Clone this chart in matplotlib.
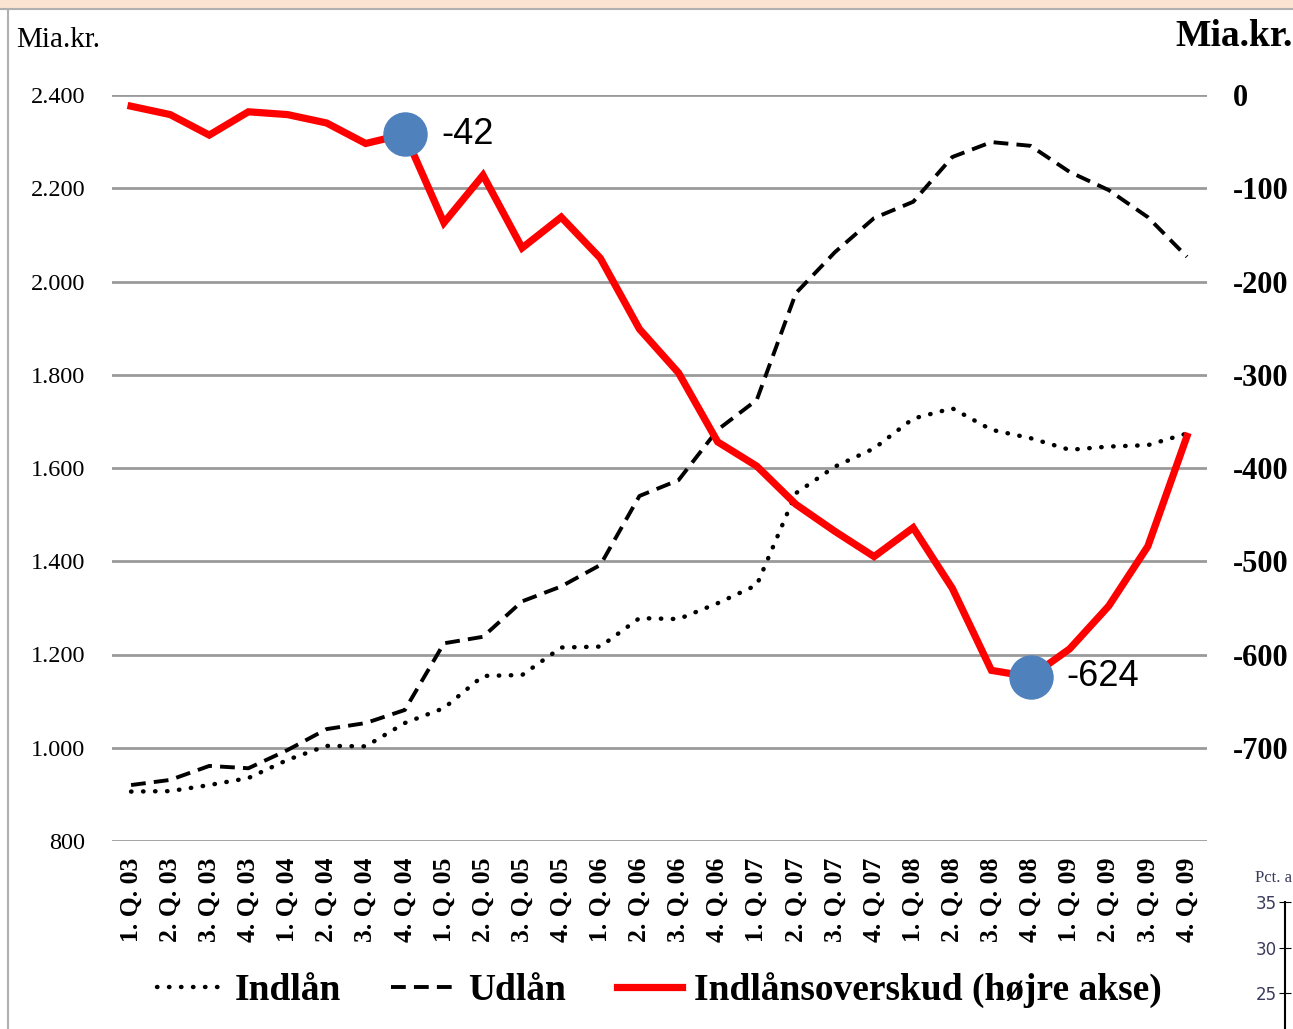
import matplotlib.pyplot as plt
from matplotlib.lines import Line2D
from matplotlib.patches import Rectangle

kvartaler = ['1. Q. 03', '2. Q. 03', '3. Q. 03', '4. Q. 03',
             '1. Q. 04', '2. Q. 04', '3. Q. 04', '4. Q. 04',
             '1. Q. 05', '2. Q. 05', '3. Q. 05', '4. Q. 05',
             '1. Q. 06', '2. Q. 06', '3. Q. 06', '4. Q. 06',
             '1. Q. 07', '2. Q. 07', '3. Q. 07', '4. Q. 07',
             '1. Q. 08', '2. Q. 08', '3. Q. 08', '4. Q. 08',
             '1. Q. 09', '2. Q. 09', '3. Q. 09', '4. Q. 09']
indlaan = [906, 907, 920, 935, 974, 1004, 1003, 1053,
           1085, 1154, 1156, 1215, 1217, 1278, 1276, 1310,
           1349, 1546, 1603, 1642, 1706, 1728, 1682, 1664,
           1639, 1646, 1649, 1674]
udlaan = [920, 931, 961, 956, 995, 1040, 1053, 1081,
          1224, 1238, 1314, 1346, 1392, 1540, 1574, 1682,
          1746, 1975, 2063, 2136, 2171, 2267, 2299, 2291,
          2235, 2196, 2138, 2053]
overskud = [-12, -21, -43, -18, -21, -30, -52, -42,
            -137, -86, -164, -131, -175, -251, -298, -372,
            -398, -439, -468, -495, -464, -529, -617, -624,
            -594, -548, -484, -366]
markeret = [7, 23]

serif = 'Liberation Serif'
x = list(range(len(kvartaler)))

fig = plt.figure(figsize=(12.93, 10.29), dpi=100)

# baggrund / ramme
fig.patches.append(Rectangle((0, 1 - 8 / 1029), 1, 8 / 1029, transform=fig.transFigure,
                             facecolor='#fce4d2', edgecolor='none'))
fig.lines.append(Line2D([0, 1], [1 - 9 / 1029] * 2, transform=fig.transFigure, color='#b0b0b0', lw=1.5))
fig.lines.append(Line2D([8 / 1293] * 2, [0, 1 - 9 / 1029], transform=fig.transFigure, color='#b0b0b0', lw=1.5))

ax = fig.add_axes([111.5 / 1293, 1 - 841 / 1029, 1095 / 1293, 746 / 1029])
ax.set_xlim(-0.5, 27.5)
ax.set_ylim(800, 2400)
ax.set_yticks(range(800, 2401, 200))
ax.set_yticklabels([f'{v:,}'.replace(',', '.') for v in range(800, 2401, 200)],
                   fontfamily=serif, fontsize=17.5)
ax.yaxis.grid(True, color='#9a9a9a', lw=2)
ax.set_axisbelow(True)
ax.set_xticks(x)
ax.set_xticklabels(kvartaler, rotation=90, fontfamily=serif, fontsize=18.5, fontweight='bold', va='top')
ax.tick_params(axis='y', length=0, pad=19)
ax.tick_params(axis='x', length=0, pad=12)
for s in ax.spines.values():
    s.set_visible(False)

l1, = ax.plot(x, indlaan, color='black', lw=3.2, linestyle=(0, (0.1, 2.6)),
              dash_capstyle='round', label='Indlån')
l2, = ax.plot(x, udlaan, color='black', lw=2.8, linestyle=(0, (3.8, 2.1)), label='Udlån')

ax2 = ax.twinx()
ax2.set_ylim(-800, 0)
ax2.set_yticks(range(-700, 1, 100))
ax2.set_yticklabels([str(v) for v in range(-700, 1, 100)], fontfamily=serif,
                    fontsize=22, fontweight='bold')
ax2.tick_params(axis='y', length=0, pad=19)
for s in ax2.spines.values():
    s.set_visible(False)
l3, = ax2.plot(x, overskud, color='#ff0000', lw=5.2, solid_joinstyle='miter',
               label='Indlånsoverskud (højre akse)')
for i in markeret:
    ax2.plot(x[i], overskud[i], 'o', color='#4f81bd', markersize=31, zorder=5)
    ax2.annotate(str(overskud[i]), (x[i], overskud[i]), xytext=(26, 0), textcoords='offset points',
                 va='center', ha='left', fontsize=26, fontfamily='Liberation Sans')

fig.text(16 / 1293, 1 - 40 / 1029, 'Mia.kr.', fontfamily=serif, fontsize=21, va='center')
fig.text(1175 / 1293, 1 - 37 / 1029, 'Mia.kr.', fontfamily=serif, fontsize=27,
         fontweight='bold', va='center')

fig.legend(handles=[l1, l2, l3], loc='center', bbox_to_anchor=(0.51, 1 - 990 / 1029),
           ncol=3, frameon=False, handlelength=1.75, handletextpad=0.3, columnspacing=1.35,
           prop={'family': serif, 'size': 27, 'weight': 'bold'})

# afskåret nabofigur nederst til højre
ax3 = fig.add_axes([1285 / 1293, 0, 0.05, (1029 - 902) / 1029])
ax3.set_ylim(21.05, 35)
ax3.set_yticks([25, 30, 35])
ax3.tick_params(axis='y', direction='inout', length=8, labelsize=12, labelcolor='#3a3a5a', pad=2)
ax3.set_xticks([])
for s in ['top', 'right', 'bottom']:
    ax3.spines[s].set_visible(False)
ax3.spines['left'].set_linewidth(1.5)
fig.text(1255 / 1293, 1 - 878 / 1029, 'Pct. a', fontfamily=serif, fontsize=12, color='#3a3a5a', va='center')

plt.savefig('out.png', dpi=100)
